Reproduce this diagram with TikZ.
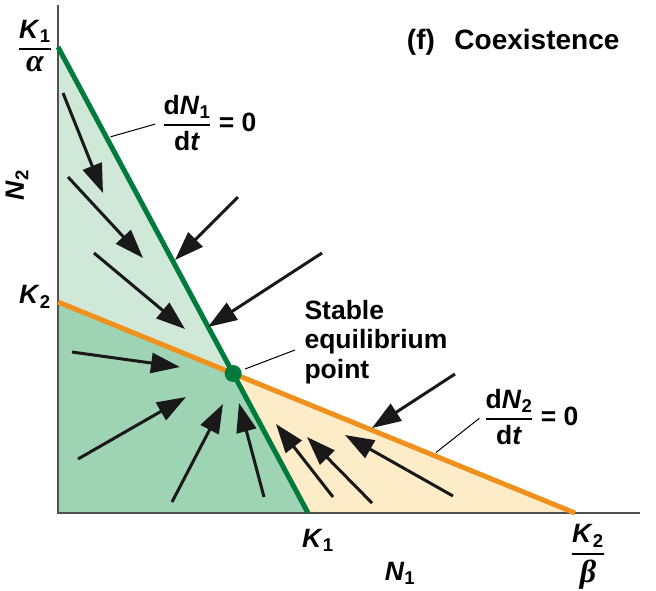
\documentclass[tikz,border=0pt]{standalone}
\usepackage{amsmath,amssymb}
\usepackage{fontspec}
\setmainfont{Liberation Sans}
\newfontfamily\greekfont{Liberation Serif}
\usepackage{tikz}
\usetikzlibrary{arrows.meta,calc}

\definecolor{isogreen}{RGB}{0,122,61}
\definecolor{isoorange}{RGB}{240,145,30}
\definecolor{palegreen}{RGB}{207,232,216}
\definecolor{midgreen}{RGB}{158,212,180}
\definecolor{paleorange}{RGB}{253,236,200}
\definecolor{axisgray}{RGB}{80,80,80}

\newcommand{\bK}[1]{\textbf{\textit{K}\textsubscript{#1}}}
\newcommand{\rfrac}[2]{\genfrac{}{}{1.8pt}{0}{#1}{#2}}
\newcommand{\bigsym}[1]{\text{\fontsize{32}{32}\selectfont\greekfont\bfseries\itshape #1}}

\begin{document}
\begin{tikzpicture}[x=1pt,y=-1pt,
  lab/.style={font=\fontsize{26.5}{29.5}\selectfont\bfseries},
  flow/.style={line width=3pt, draw=black!90, -{Triangle[length=29pt,width=20pt]}},
  iso/.style={line width=5pt},
  leader/.style={line width=1pt}]
  \useasboundingbox (0,0) rectangle (656,590);

  % intercepts
  \coordinate (O) at (58,513);
  \coordinate (K1a) at (58,47);
  \coordinate (K1) at (308,513);
  \coordinate (K2) at (58,302);
  \coordinate (K2b) at (575,513);
  \coordinate (E) at (intersection of K1a--K1 and K2--K2b);

  % shaded regions
  \fill[palegreen] (K1a) -- (E) -- (K2) -- cycle;
  \fill[midgreen] (K2) -- (E) -- (K1) -- (O) -- cycle;
  \fill[paleorange] (E) -- (K2b) -- (K1) -- cycle;

  % axes
  \draw[axisgray, line width=1.3pt] (58,5) -- (O) -- (640,513);

  % isoclines
  \draw[iso, isoorange] (K2) -- (K2b);
  \draw[iso, isogreen] (K1a) -- (K1);

  % population trajectories
  \foreach \tx/\ty/\hx/\hy in {63/93/103/193, 68/177/143/258, 94/253/185/329,
      238/197/175/260, 322/253/208/327, 72/352/180/367, 78/459/186/397,
      172/502/223/404, 264/497/239/403, 455/374/372/428, 453/496/345/435,
      372/503/307/437, 333/497/276/424}
    \draw[flow] (\tx,\ty) -- (\hx,\hy);

  \node[circle, fill=isogreen, inner sep=0pt, minimum size=17pt] (eqpt) at (E) {};

  % labels
  \node[lab, font=\fontsize{28}{32}\selectfont\bfseries, anchor=east] (title) at (623,42)
    {(f)\hspace{0.7em}Coexistence};
  \node[lab] (k1alpha) at (35,46) {$\rfrac{\text{\bK{1}}}{\bigsym{α}}$};
  \node[lab] (k2lab) at (35,297) {\bK{2}};
  \node[lab, rotate=90] (ylab) at (17,185) {\textit{N}\textsubscript{2}};
  \node[lab] (k1lab) at (318,540) {\bK{1}};
  \node[lab] (xlab) at (400,573) {\textit{N}\textsubscript{1}};
  \node[lab] (k2beta) at (588,557) {$\rfrac{\text{\bK{2}}}{\bigsym{β}}$};
  \node[lab, anchor=west] (dn1) at (159,123)
    {$\rfrac{\text{d\textit{N}\textsubscript{1}}}{\text{d\textit{t}}}\text{ = 0}$};
  \node[lab, anchor=west] (dn2) at (481,417)
    {$\rfrac{\text{d\textit{N}\textsubscript{2}}}{\text{d\textit{t}}}\text{ = 0}$};
  \node[lab, anchor=west, align=left] (stab) at (301,342) {Stable\\equilibrium\\point};

  % leader lines
  \coordinate (g1) at ($(K1a)!0.195!(K1)$);
  \coordinate (g2) at ($(K2)!0.725!(K2b)$);
  \coordinate (stabtip) at (295,350);
  \draw[leader, shorten <=4pt, shorten >=4pt] (dn1.west) -- (g1);
  \draw[leader, shorten <=2pt, shorten >=4pt] (dn2.west) -- (g2);
  \draw[leader, shorten <=4pt] (eqpt) -- (stabtip);
\end{tikzpicture}
\end{document}
